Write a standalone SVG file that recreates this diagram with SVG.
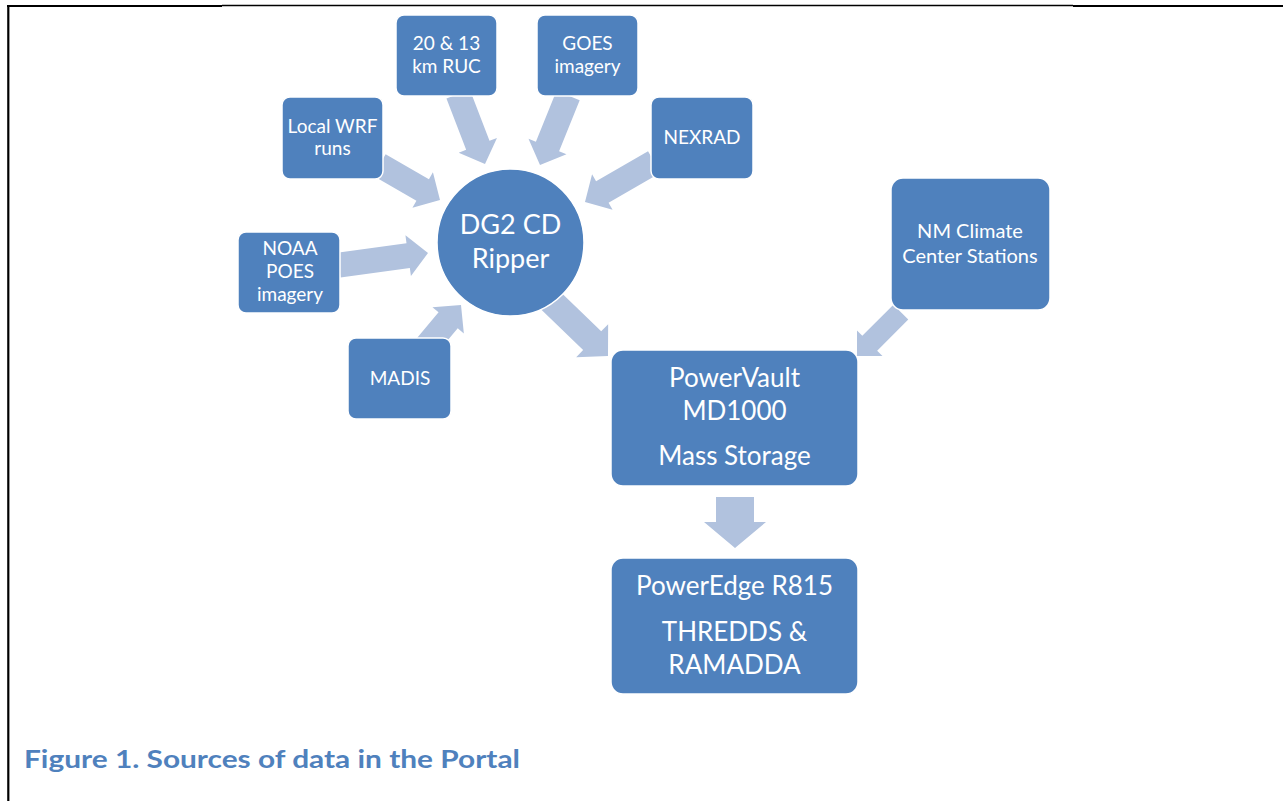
<svg xmlns="http://www.w3.org/2000/svg" width="1283" height="801" viewBox="0 0 1283 801">
<style>
.node{fill:#4F81BD;stroke:#FFFFFF;stroke-width:1.5}
.arrow{fill:#B1C2DE}
.t{font-family:Lato,"Open Sans","Liberation Sans",sans-serif;fill:#FFFFFF;text-anchor:middle}
.s{font-size:19px}
.m{font-size:20px}
.l{font-size:26px}
.c{font-size:27px}
.cap{font-family:Lato,"Open Sans","Liberation Sans",sans-serif;font-weight:bold;font-size:24px;fill:#4F81BD}
.frame{stroke:#000000;fill:none}
</style>
<rect width="1283" height="801" fill="#FFFFFF"/>
<g id="frame">
<line class="frame" x1="8.3" y1="5" x2="8.3" y2="801" stroke-width="2.2"/>
<line class="frame" x1="7" y1="6" x2="222" y2="6" stroke-width="2.2"/>
<line class="frame" x1="222" y1="5.5" x2="1073" y2="5.5" stroke-width="1.3"/>
<line class="frame" x1="1073" y1="6" x2="1283" y2="6" stroke-width="2.2"/>
</g>
<g id="connectors">
<polygon class="arrow" transform="translate(485,164) rotate(69)" points="-75,-12.5 -20,-12.5 -20,-20.5 0,0 -20,20.5 -20,12.5 -75,12.5"/>
<polygon class="arrow" transform="translate(540,165) rotate(112)" points="-75,-12.5 -20,-12.5 -20,-20.5 0,0 -20,20.5 -20,12.5 -75,12.5"/>
<polygon class="arrow" transform="translate(440,200) rotate(30)" points="-70,-12.5 -20,-12.5 -20,-20.5 0,0 -20,20.5 -20,12.5 -70,12.5"/>
<polygon class="arrow" transform="translate(585,202) rotate(150)" points="-80,-12.5 -20,-12.5 -20,-20.5 0,0 -20,20.5 -20,12.5 -80,12.5"/>
<polygon class="arrow" transform="translate(428,253) rotate(-7.7)" points="-90,-12.5 -20,-12.5 -20,-20.5 0,0 -20,20.5 -20,12.5 -90,12.5"/>
<polygon class="arrow" transform="translate(461,305) rotate(-50)" points="-60,-12.5 -20,-12.5 -20,-20.5 0,0 -20,20.5 -20,12.5 -60,12.5"/>
<polygon class="arrow" transform="translate(608,356) rotate(44)" points="-80,-13 -22,-13 -22,-23 0,0 -22,23 -22,13 -80,13"/>
<polygon class="arrow" transform="translate(857,356) rotate(135)" points="-62,-10.5 -18,-10.5 -18,-18 0,0 -18,18 -18,10.5 -62,10.5"/>
<polygon class="arrow" transform="translate(735,548) rotate(90)" points="-51,-19 -26,-19 -26,-31 0,0 -26,31 -26,19 -51,19"/>
</g>
<g id="node-ruc">
<rect class="node" x="396" y="15" width="101" height="81" rx="8"/>
<text class="t s" x="446.5" y="50">20 &amp; 13</text>
<text class="t s" x="446.5" y="73">km RUC</text>
</g>
<g id="node-goes">
<rect class="node" x="537" y="15" width="101" height="81" rx="8"/>
<text class="t s" x="587.5" y="50">GOES</text>
<text class="t s" x="587.5" y="73">imagery</text>
</g>
<g id="node-wrf">
<rect class="node" x="282" y="97" width="101" height="82" rx="8"/>
<text class="t s" x="332.5" y="132.5">Local WRF</text>
<text class="t s" x="332.5" y="155">runs</text>
</g>
<g id="node-nexrad">
<rect class="node" x="651" y="97" width="102" height="82" rx="8"/>
<text class="t s" x="702" y="144">NEXRAD</text>
</g>
<g id="node-noaa">
<rect class="node" x="238" y="232" width="102" height="81" rx="8"/>
<text class="t s" x="290" y="255">NOAA</text>
<text class="t s" x="290" y="278">POES</text>
<text class="t s" x="290" y="301">imagery</text>
</g>
<g id="node-madis">
<rect class="node" x="348" y="338" width="103" height="81" rx="8"/>
<text class="t s" x="400" y="385">MADIS</text>
</g>
<g id="node-ripper">
<circle class="node" cx="510.5" cy="242.5" r="73.5" stroke-width="2"/>
<text class="t c" x="510.5" y="234">DG2 CD</text>
<text class="t c" x="510.5" y="268">Ripper</text>
</g>
<g id="node-nm">
<rect class="node" x="891" y="178" width="159" height="132" rx="12"/>
<text class="t m" x="970" y="238">NM Climate</text>
<text class="t m" x="970" y="263">Center Stations</text>
</g>
<g id="node-powervault">
<rect class="node" x="611" y="350" width="247" height="136" rx="12"/>
<text class="t l" x="734.5" y="387">PowerVault</text>
<text class="t l" x="734.5" y="420">MD1000</text>
<text class="t l" x="734.5" y="465">Mass Storage</text>
</g>
<g id="node-poweredge">
<rect class="node" x="611" y="558" width="247" height="136" rx="12"/>
<text class="t l" x="734.5" y="595">PowerEdge R815</text>
<text class="t l" x="734.5" y="641">THREDDS &amp;</text>
<text class="t l" x="734.5" y="674">RAMADDA</text>
</g>
<text class="cap" x="24" y="768" textLength="496" lengthAdjust="spacingAndGlyphs">Figure 1. Sources of data in the Portal</text>
</svg>
